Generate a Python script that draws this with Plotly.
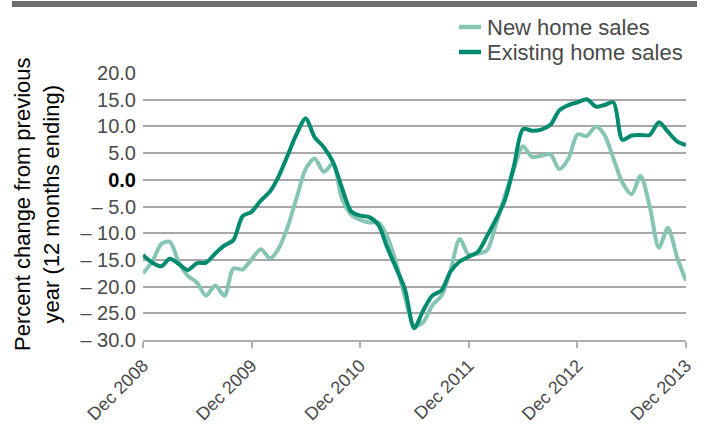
import plotly.graph_objects as go
import pandas as pd

months = pd.date_range("2008-12-01", "2013-12-01", freq="MS")

existing_home_sales = [
    -14.1, -15.5, -16.2, -14.8, -15.8, -16.9, -15.6, -15.5, -13.8, -12.3, -11.3, -6.8,
    -6.0, -3.9, -2.2, 0.5, 4.5, 8.5, 11.5, 8.0, 6.1, 3.3, -1.5, -5.9,
    -6.7, -7.0, -8.5, -12.5, -16.5, -20.5, -27.8, -24.5, -21.7, -20.7, -17.2, -15.3,
    -14.4, -13.5, -10.5, -7.5, -3.8, 2.5, 9.5, 9.2, 9.4, 10.3, 13.0, 14.0,
    14.5, 15.1, 13.7, 14.0, 14.5, 7.5, 8.3, 8.4, 8.4, 10.8, 9.0, 7.2,
    6.5,
]
new_home_sales = [
    -17.5, -15.3, -12.0, -11.6, -15.5, -18.0, -19.3, -21.7, -19.8, -21.7, -16.6, -16.8,
    -14.9, -13.0, -14.7, -13.0, -8.9, -3.5, 2.0, 4.0, 1.5, 3.0, -3.5, -6.5,
    -7.5, -8.0, -8.0, -10.5, -15.5, -22.0, -27.3, -26.7, -23.5, -21.7, -17.0, -11.1,
    -14.0, -13.8, -13.2, -8.5, -3.0, 2.0, 6.3, 4.3, 4.5, 4.8, 2.0, 4.0,
    8.5, 8.2, 10.0, 8.5, 4.0, -0.5, -2.7, 0.7, -5.0, -12.7, -9.0, -14.5,
    -18.9,
]

series_names = ["New home sales", "Existing home sales"]
series_colors = ["#86c5b3", "#008a6e"]

y_tick_values = [20, 15, 10, 5, 0, -5, -10, -15, -20, -25, -30]
y_tick_labels = ["20.0", "15.0", "10.0", "5.0", "<span style='color:#000000'><b>0.0</b></span>",
                 "– 5.0", "– 10.0", "– 15.0", "– 20.0", "– 25.0", "– 30.0"]
x_tick_values = ["2008-12-01", "2009-12-01", "2010-12-01", "2011-12-01", "2012-12-01", "2013-12-01"]
x_tick_labels = ["Dec 2008", "Dec 2009", "Dec 2010", "Dec 2011", "Dec 2012", "Dec 2013"]

fig = go.Figure()
for name, vals, col in zip(series_names, [new_home_sales, existing_home_sales], series_colors):
    fig.add_trace(go.Scatter(x=months, y=vals, mode="lines", name=name,
                             line=dict(color=col, width=4, shape="spline", smoothing=0.8),
                             showlegend=False))

font_family = "Liberation Sans, Arial, sans-serif"
text_gray = "#4a4a4a"

fig.update_layout(
    width=706, height=427,
    margin=dict(l=143, r=20, t=73, b=87),
    paper_bgcolor="white", plot_bgcolor="white",
    font=dict(family=font_family, color=text_gray),
    xaxis=dict(
        range=[months[0], months[-1]], automargin=False,
        tickvals=x_tick_values, ticktext=x_tick_labels,
        tickangle=-45, tickfont=dict(size=18, color=text_gray),
        showgrid=False, zeroline=False,
        showline=True, linecolor="#b0b0b0", linewidth=2,
        ticks="outside", ticklen=6, tickwidth=2, tickcolor="#b0b0b0",
    ),
    yaxis=dict(
        range=[-30, 20], automargin=False,
        tickvals=y_tick_values, ticktext=y_tick_labels,
        tickfont=dict(size=20, color=text_gray),
        showgrid=True, gridcolor="#a8a8a8", gridwidth=1.5,
        zeroline=False, showline=False, ticks="", ticklabelstandoff=6,
    ),
    shapes=[
        dict(type="rect", xref="paper", yref="paper",
             x0=(12 - 143) / 543, x1=(697 - 143) / 543,
             y0=1 + (73 - 7) / 267, y1=1 + (73 - 1) / 267,
             fillcolor="#6e6e6e", line=dict(width=0)),
        dict(type="line", xref="paper", yref="paper",
             x0=(459 - 143) / 543, x1=(481 - 143) / 543,
             y0=1 + (73 - 27) / 267, y1=1 + (73 - 27) / 267,
             line=dict(color=series_colors[0], width=4.5)),
        dict(type="line", xref="paper", yref="paper",
             x0=(459 - 143) / 543, x1=(481 - 143) / 543,
             y0=1 + (73 - 52) / 267, y1=1 + (73 - 52) / 267,
             line=dict(color=series_colors[1], width=4.5)),
    ],
    annotations=[
        dict(text=series_names[0], xref="paper", yref="paper",
             x=(485 - 143) / 543, y=1 + (73 - 27) / 267, xanchor="left", yanchor="middle",
             showarrow=False, font=dict(size=22, color=text_gray)),
        dict(text=series_names[1], xref="paper", yref="paper",
             x=(485 - 143) / 543, y=1 + (73 - 52) / 267, xanchor="left", yanchor="middle",
             showarrow=False, font=dict(size=22, color=text_gray)),
        dict(text="Percent change from previous<br>year (12 months ending)",
             xref="paper", yref="paper", textangle=-90,
             x=(37 - 143) / 543, y=(340 - 204) / 267, xanchor="center", yanchor="middle",
             showarrow=False, font=dict(size=22, color="#000000")),
    ],
)

fig.write_html("out.html", config={"displayModeBar": False},
               post_script="document.body.style.margin='0';")
